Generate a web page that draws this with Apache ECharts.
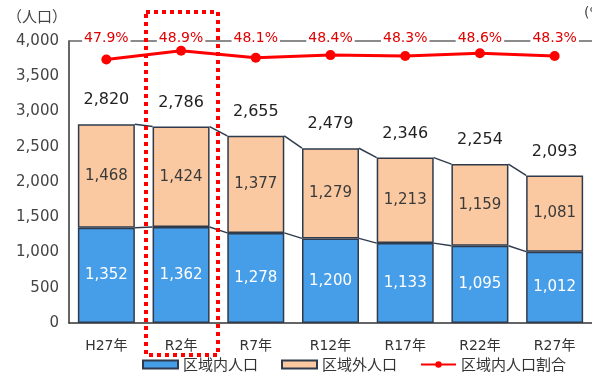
<!DOCTYPE html>
<html><head><meta charset="utf-8">
<script src="https://cdn.jsdelivr.net/npm/echarts@6/dist/echarts.min.js"></script>
<style>html,body{margin:0;padding:0;background:#fff}#c{width:592px;height:378px}</style>
</head><body><div id="c"></div>
<script>
const categories = ['H27年','R2年','R7年','R12年','R17年','R22年','R27年'];
const inner = [1352,1362,1278,1200,1133,1095,1012];
const outer = [1468,1424,1377,1279,1213,1159,1081];
const ratio = [47.9,48.9,48.1,48.4,48.3,48.6,48.3];
const yTicks = [0,500,1000,1500,2000,2500,3000,3500,4000];

const FONT = '"DejaVu Sans", "Noto Sans CJK JP", sans-serif';
const fmt = v => v.toLocaleString('en-US');
const totals = inner.map((v,i)=>v+outer[i]);
const BW = 57;

const chart = echarts.init(document.getElementById('c'));
chart.setOption({
  animation:false,
  textStyle:{fontFamily:FONT},
  grid:{left:69, top:41, width:525, bottom:55},
  legend:{
    bottom:1, left:137, itemGap:23, itemWidth:35, itemHeight:8,
    textStyle:{fontSize:15, color:'#333', fontFamily:'"Noto Sans CJK JP"'},
    data:[
      {name:'区域内人口', icon:'rect'},
      {name:'区域外人口', icon:'rect'},
      {name:'区域内人口割合'}
    ]
  },
  xAxis:[{
    type:'category', data:categories,
    axisLine:{lineStyle:{color:'#333', width:1.5}},
    axisTick:{show:false},
    axisLabel:{color:'#333', fontSize:14, margin:16, fontFamily:FONT}
  },{
    type:'category', data:categories, position:'top',
    axisLine:{lineStyle:{color:'#666', width:1.5}},
    axisTick:{show:false},
    axisLabel:{color:'#e00000', fontSize:14, margin:-4, fontFamily:FONT,
      backgroundColor:'#fff', padding:[0,2],
      formatter:(v,idx)=>ratio[idx].toFixed(1)+'%'}
  }],
  yAxis:[{
    type:'value', min:yTicks[0], max:yTicks[yTicks.length-1], interval:500,
    name:'（人口）', nameGap:17, nameTextStyle:{color:'#444', fontSize:15, align:'right', padding:[0,2,0,0], fontFamily:'"Noto Sans CJK JP"'},
    axisLine:{show:true, lineStyle:{color:'#333', width:1.5}},
    axisTick:{show:false}, splitLine:{show:false},
    axisLabel:{color:'#444', fontSize:15, margin:10, formatter:v=>fmt(v)}
  },{
    type:'value', min:18, max:50, show:false, splitLine:{show:false}
  }],
  series:[{
    name:'区域内人口', type:'bar', stack:'p', data:inner, barWidth:BW,
    itemStyle:{color:'#469ee8', borderColor:'#2f3b4c', borderWidth:1.5},
    label:{show:true, position:'inside', color:'#fff', fontSize:15, formatter:p=>fmt(p.value)}
  },{
    name:'区域外人口', type:'bar', stack:'p', data:outer, barWidth:BW,
    itemStyle:{color:'#fac9a1', borderColor:'#2f3b4c', borderWidth:1.5},
    label:{show:true, position:'inside', color:'#3a3a3a', fontSize:15, formatter:p=>fmt(p.value)}
  },{
    name:'total', type:'bar', stack:'p', data:totals.map(()=>0), barWidth:BW,
    itemStyle:{color:'transparent'}, silent:true,
    label:{show:true, position:'top', distance:16, color:'#222', fontSize:16,
      formatter:p=>fmt(totals[p.dataIndex])}
  },{
    name:'conn', type:'custom', data:inner.slice(0,-1).map((v,i)=>[i]), z:1,
    renderItem:(params, api)=>{
      const i = api.value(0);
      const ch = [];
      [inner, totals].forEach(arr=>{
        const a = api.coord([i, arr[i]]);
        const b = api.coord([i+1, arr[i+1]]);
        ch.push({type:'line', shape:{x1:a[0]+BW/2, y1:a[1], x2:b[0]-BW/2, y2:b[1]},
          style:{stroke:'#2f3b4c', lineWidth:1.5}});
      });
      return {type:'group', children:ch};
    }
  },{
    name:'区域内人口割合', type:'line', yAxisIndex:1, data:ratio,
    symbol:'circle', symbolSize:10,
    lineStyle:{color:'#ff0000', width:3}, itemStyle:{color:'#ff0000'}
  }],
  graphic:[{
    type:'rect', shape:{x:146, y:12, width:72, height:343},
    style:{fill:'none', stroke:'#ff0000', lineWidth:4, lineDash:[4,4]}, z:100
  },{
    type:'text', left:584, top:6, style:{text:'(%)', fill:'#444', font:'14px '+FONT}
  }]
});
</script></body></html>
